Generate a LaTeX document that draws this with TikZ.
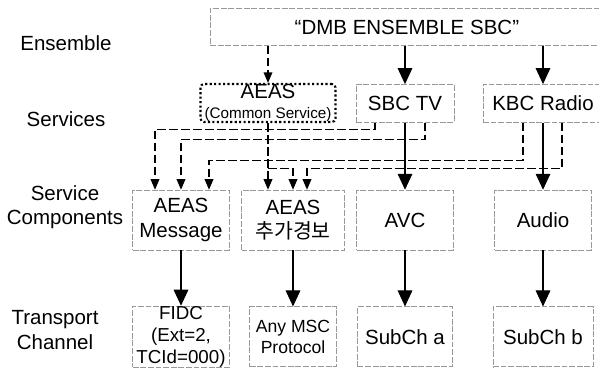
\documentclass[tikz,border=0pt]{standalone}
\usepackage{fontspec}
\setmainfont{Liberation Sans}
\newfontfamily\krfont{Noto Sans CJK KR}
\usepackage{tikz}
\usetikzlibrary{arrows.meta,positioning,calc}

\begin{document}
\begin{tikzpicture}[x=0.03cm, y=-0.03cm, node distance=3.5cm,
  every node/.style={align=center, font=\fontsize{17.5}{21}\selectfont},
  faint/.style={draw=black!40, dash pattern=on 5pt off 1.5pt, line width=0.4pt, inner sep=0pt},
  compbox/.style={faint, minimum width=2.9cm, minimum height=1.8cm},
  servbox/.style={faint, minimum height=1.14cm},
  commonbox/.style={draw, dotted, line width=1.8pt, rounded corners=3pt, minimum width=4.05cm, minimum height=1.14cm, inner sep=0pt},
  solidarr/.style={-{Triangle[length=0.48cm,width=0.44cm]}, line width=0.9pt},
  dasharr/.style={-{Triangle[length=0.32cm,width=0.26cm]}, line width=1.3pt, dash pattern=on 0.26cm off 0.1cm}]
  \useasboundingbox (0,0) rectangle (599,367);

  \node[faint, minimum width=11.8cm, minimum height=1.11cm, anchor=west] (ens) at (210,27) {“DMB ENSEMBLE SBC”};

  \node[compbox] (msg) at (181,220) {AEAS\\Message};
  \node[compbox, minimum width=3.09cm] (add) at (293,220) {AEAS\\{\krfont 추가경보}};
  \node[compbox] (avc) at (405,220) {AVC};
  \node[compbox] (audio) at (543,220) {Audio};

  \node[servbox, minimum width=2.94cm, above of=avc] (sbc) {SBC TV};
  \node[servbox, minimum width=3.6cm, above of=audio] (kbc) {KBC Radio};
  \node[commonbox] (common) at (268,103) {AEAS\\[-4pt]{\fontsize{13}{14}\selectfont(Common Service)}};

  \node[compbox, below of=msg, font=\fontsize{16}{19}\selectfont] (fidc) {FIDC\\(Ext=2,\\TCId=000)};
  \node[compbox, minimum width=2.6cm, below of=add, font=\fontsize{15}{18}\selectfont] (msc) {Any MSC\\Protocol};
  \node[compbox, minimum width=2.85cm, below of=avc] (suba) {SubCh a};
  \node[compbox, minimum width=3cm, below of=audio] (subb) {SubCh b};

  \node (lblens) at (66,43) {Ensemble};
  \node (lblserv) at (66,119) {Services};
  \node (lblcomp) at (65,207) {Service\\Components};
  \node (lbltrans) at (55,330) {Transport\\Channel};

  \draw[solidarr] (sbc |- ens.south) -- (sbc);
  \draw[solidarr] (kbc |- ens.south) -- (kbc);
  \draw[solidarr] (sbc) -- (avc);
  \draw[solidarr] (kbc) -- (audio);
  \draw[solidarr] (msg) -- (fidc);
  \draw[solidarr] (add) -- (msc);
  \draw[solidarr] (avc) -- (suba);
  \draw[solidarr] (audio) -- (subb);

  \draw[dasharr] (common |- ens.south) -- (common);
  \draw[dasharr] (common.south) -- coordinate[pos=0.68] (tap) (common.south |- add.north);
  \draw[dasharr] (tap) -| (add.north);
  \draw[dasharr] ([xshift=-0.9cm]sbc.south) -- ++(0,7) -| ([xshift=-0.78cm]msg.north);
  \draw[dasharr] ([xshift=0.6cm]sbc.south) -- ++(0,17) -| (msg.north);
  \draw[dasharr] ([xshift=-0.6cm]kbc.south) -- ++(0,38) -| ([xshift=0.84cm]msg.north);
  \draw[dasharr] ([xshift=0.57cm]kbc.south) -- ++(0,46) -| ([xshift=0.42cm]add.north);
\end{tikzpicture}
\end{document}
